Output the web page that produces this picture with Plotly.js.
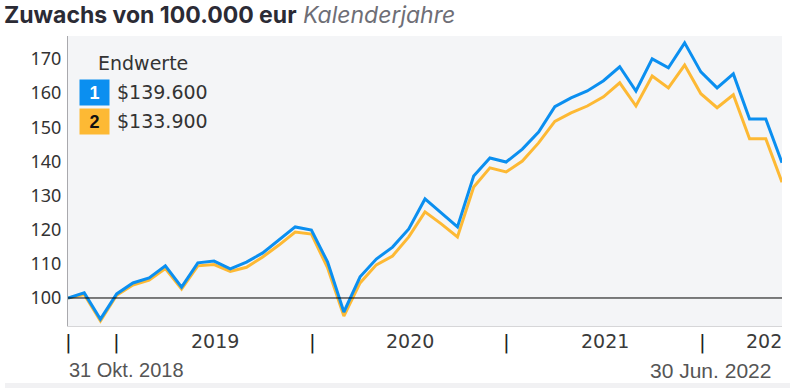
<!DOCTYPE html>
<html><head><meta charset="utf-8">
<script src="https://cdn.plot.ly/plotly-3.0.1.min.js"></script>
<style>html,body{margin:0;padding:0;background:#fff;}#chart{width:790px;height:388px;}</style>
</head><body><div id="chart"></div>
<script>
// Monthly values, 31 Oct 2018 .. 30 Jun 2022 (45 month-ends)
const monthIndex = Array.from({length: 45}, (_, i) => i);
const series1 = [100, 101.5, 93.8, 101.2, 104.4, 105.9, 109.4, 103.2, 110.3, 110.8, 108.5, 110.5,
  113.2, 117.0, 120.8, 119.9, 110.5, 95.9, 106.2, 111.4, 114.9, 120.2, 129.0, 124.9, 120.8,
  135.7, 141.0, 139.8, 143.6, 148.6, 156.0, 158.6, 160.6, 163.6, 167.7, 160.6, 170.0, 167.4,
  174.7, 166.2, 161.5, 165.6, 152.4, 152.4, 139.6];
const series2 = [100, 101.0, 93.3, 100.8, 103.8, 105.2, 108.6, 102.6, 109.4, 109.8, 107.8, 109.0,
  112.0, 115.5, 119.3, 118.7, 108.8, 94.7, 104.4, 109.7, 112.3, 117.9, 125.2, 121.7, 117.9,
  132.5, 138.1, 136.9, 140.1, 145.4, 151.7, 154.2, 156.2, 158.9, 163.0, 156.2, 165.0, 161.5,
  168.2, 159.8, 155.7, 159.5, 146.6, 146.6, 133.9];
const seriesNames = ['1', '2'];
const yTicks = [100, 110, 120, 130, 140, 150, 160, 170];
const yearLabels = ['2019', '2020', '2021', '202'];
const yearLabelPos = [9.06, 21.07, 33.1, 42.9];
const separatorPos = [0.05, 3, 15.05, 27.05, 39.1, 44.2];
const startLabel = '31 Okt. 2018';
const endLabel = '30 Jun. 2022';
const legendTitle = 'Endwerte';

const blue = '#0b8ff0', yellow = '#fdb934';
function money(v){ const parts = (Math.round(v*10)/10).toFixed(1).split('.'); return '$' + parts[0] + '.' + parts[1] + '00'; }

const traces = [
  {x: monthIndex, y: series2, type: 'scatter', mode: 'lines', line: {color: yellow, width: 3}, hoverinfo: 'skip', name: seriesNames[1]},
  {x: monthIndex, y: series1, type: 'scatter', mode: 'lines', line: {color: blue, width: 3}, hoverinfo: 'skip', name: seriesNames[0]}
];

const ann = [];
const pxY = py => (326 - py) / 290; // pixel row -> paper y
const pxX = px => (px - 68) / 714;  // pixel column -> paper x
yearLabels.forEach((t, i) => ann.push({x: yearLabelPos[i], y: pxY(341), xref: 'x', yref: 'paper', text: t, showarrow: false,
  font: {family: 'DejaVu Sans', size: 19, color: '#3a3a3a'}, xanchor: 'center', yanchor: 'middle'}));
separatorPos.forEach(p => ann.push({x: p, y: pxY(342), xref: 'x', yref: 'paper', text: '|', showarrow: false,
  font: {family: 'DejaVu Sans', size: 20, color: '#222'}, xanchor: 'center', yanchor: 'middle'}));
ann.push({x: pxX(67), y: pxY(370), xref: 'paper', yref: 'paper', text: startLabel, showarrow: false, xanchor: 'left', yanchor: 'middle',
  font: {family: 'Liberation Sans', size: 20, color: '#555'}});
ann.push({x: pxX(773), y: pxY(370), xref: 'paper', yref: 'paper', text: endLabel, showarrow: false, xanchor: 'right', yanchor: 'middle',
  font: {family: 'Liberation Sans', size: 21, color: '#555'}});
// legend block
ann.push({x: pxX(96), y: pxY(63), xref: 'paper', yref: 'paper', text: legendTitle, showarrow: false, xanchor: 'left', yanchor: 'middle',
  font: {family: 'DejaVu Sans', size: 19, color: '#333'}});
[[series1, blue, '#fff', 92], [series2, yellow, '#111', 121]].forEach(([s, c, fc, py], i) => {
  ann.push({x: pxX(94), y: pxY(py), xref: 'paper', yref: 'paper', text: '<b>' + seriesNames[i] + '</b>', showarrow: false,
    bgcolor: c, width: 27, height: 23, borderpad: 1, xanchor: 'center', yanchor: 'middle',
    font: {family: 'Liberation Sans', size: 18, color: fc}});
  ann.push({x: pxX(115), y: pxY(py), xref: 'paper', yref: 'paper', text: money(s[s.length - 1]), showarrow: false,
    xanchor: 'left', yanchor: 'middle', font: {family: 'DejaVu Sans', size: 19, color: '#333'}});
});

const layout = {
  width: 790, height: 388,
  margin: {l: 68, r: 8, t: 36, b: 62},
  paper_bgcolor: '#fff', plot_bgcolor: '#f4f5f7',
  showlegend: false,
  title: {text: '<b>Zuwachs von 100.000 eur</b> <i><span style="color:#6e6e76;font-weight:normal">Kalenderjahre</span></i>',
    x: 4/790, xanchor: 'left', xref: 'container', y: 1 - 15/388, yanchor: 'middle', yref: 'container',
    font: {family: 'Inter, Lato, Liberation Sans', size: 23, color: '#2b2b35'}},
  xaxis: {range: [0, 44], showgrid: false, zeroline: false, showticklabels: false, ticks: '', showline: true, linecolor: '#d6d6d8', linewidth: 1, fixedrange: true},
  yaxis: {range: [91.8, 176.7], tickvals: yTicks, ticktext: yTicks.map(String), showgrid: false, zeroline: false, ticks: '',
    showline: true, linecolor: '#a9a9ad', linewidth: 1, ticklabelstandoff: 2,
    tickfont: {family: 'Noto Sans', size: 18, color: '#333'}, fixedrange: true},
  shapes: [
    {type: 'line', xref: 'paper', yref: 'y', x0: 0, x1: 1, y0: 100, y1: 100, line: {color: '#000', width: 1}},
    {type: 'rect', xref: 'paper', yref: 'paper', x0: pxX(5), x1: pxX(790), y0: pxY(388), y1: pxY(383), fillcolor: '#f1f1f3', line: {width: 0}}
  ],
  annotations: ann
};
Plotly.newPlot('chart', traces, layout, {staticPlot: true, displayModeBar: false});
</script></body></html>
